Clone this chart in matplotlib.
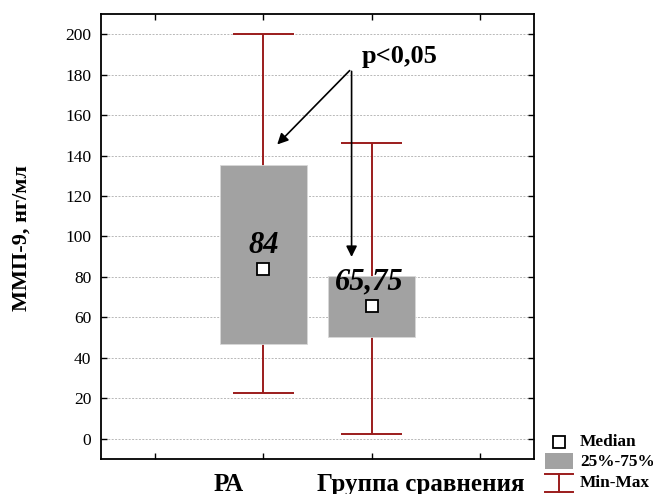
import matplotlib
matplotlib.use('Agg')
import matplotlib.pyplot as plt
from matplotlib.patches import Rectangle
from matplotlib.lines import Line2D
from matplotlib.transforms import blended_transform_factory

plt.rcParams['font.family'] = ['Liberation Serif', 'DejaVu Serif']

groups = ['РА', 'Группа сравнения']
positions = [1, 2]
medians = [84, 65.75]
q1 = [47, 50.5]
q3 = [135.3, 80.5]
mins = [22.5, 2.3]
maxs = [200, 146]
median_labels = ['84', '65,75']

box_color = '#a2a2a2'
red = '#9b1c1c'

fig = plt.figure(figsize=(6.53, 4.94), dpi=100)
ax = fig.add_axes([0.1547, 0.0709, 0.663, 0.9008])

ax.set_xlim(-0.5, 3.5)
ax.set_ylim(-10, 210)
ax.set_yticks(range(0, 201, 20))
ax.set_xticks([0, 1, 2, 3])
ax.set_xticklabels([])
ax.tick_params(direction='in', top=True, right=True, labelsize=12.5, length=4, width=1, pad=7)
for s in ax.spines.values():
    s.set_linewidth(1.3)
ax.yaxis.grid(True, color='#b8b8b8', linestyle=(0, (2, 1.5)), linewidth=0.7)
ax.set_axisbelow(True)

# whiskers and caps
ax.vlines(positions, mins, maxs, color=red, linewidth=1.4, zorder=2)
ax.hlines(mins, [p - 0.28 for p in positions], [p + 0.28 for p in positions], color=red, linewidth=1.4, zorder=2)
ax.hlines(maxs, [p - 0.28 for p in positions], [p + 0.28 for p in positions], color=red, linewidth=1.4, zorder=2)

# boxes
ax.bar(positions, [b - a for a, b in zip(q1, q3)], bottom=q1, width=0.8,
       color=box_color, edgecolor='#d8d8d8', linewidth=0.6, zorder=3)

# medians
ax.plot(positions, medians, linestyle='none', marker='s', markersize=8,
        markerfacecolor='white', markeredgecolor='black', markeredgewidth=1.3, zorder=4)

ax.text(1.0, 95.5, median_labels[0], ha='center', va='center', fontsize=22,
        fontweight='bold', fontstyle='italic', zorder=5)
ax.text(1.98, 77.5, median_labels[1], ha='center', va='center', fontsize=22,
        fontweight='bold', fontstyle='italic', zorder=5)

# significance arrows
src = (1.815, 183)
ax.annotate('', xy=(1.11, 144.5), xytext=src,
            arrowprops=dict(arrowstyle='-|>', color='black', lw=1.2, mutation_scale=16), zorder=6)
ax.annotate('', xy=(1.815, 88.5), xytext=src,
            arrowprops=dict(arrowstyle='-|>', color='black', lw=1.2, mutation_scale=16), zorder=6)
ax.text(1.91, 189, 'p<0,05', ha='left', va='center', fontsize=19, fontweight='bold', zorder=6)

ax.set_ylabel('ММП-9, нг/мл', fontsize=16, fontweight='bold')
ax.yaxis.set_label_coords(-0.16, 0.497)

trans = blended_transform_factory(ax.transData, ax.transAxes)
ax.text(0.68, -0.058, groups[0], transform=trans, ha='center', va='center',
        fontsize=18, fontweight='bold', clip_on=False)
ax.text(2.45, -0.058, groups[1], transform=trans, ha='center', va='center',
        fontsize=18, fontweight='bold', clip_on=False)

# legend drawn in figure pixels
W, H = 653, 494
def fx(x):
    return x / W
def fy(y):
    return 1 - y / H

fig.add_artist(Line2D([fx(559)], [fy(442)], marker='s', markersize=9, linestyle='none',
                      markerfacecolor='white', markeredgecolor='black', markeredgewidth=1.3))
fig.add_artist(Rectangle((fx(545), fy(469)), fx(28), 16 / H, facecolor=box_color, edgecolor='none'))
fig.add_artist(Line2D([fx(545), fx(573)], [fy(474), fy(474)], color=red, linewidth=1.4))
fig.add_artist(Line2D([fx(559), fx(559)], [fy(474), fy(492)], color=red, linewidth=1.4))
fig.add_artist(Line2D([fx(545), fx(573)], [fy(492), fy(492)], color=red, linewidth=1.4))
for label, y in [('Median', 442), ('25%-75%', 462), ('Min-Max', 483)]:
    fig.text(fx(580), fy(y), label, ha='left', va='center', fontsize=12.4, fontweight='bold')

fig.savefig('out.png', dpi=100)
